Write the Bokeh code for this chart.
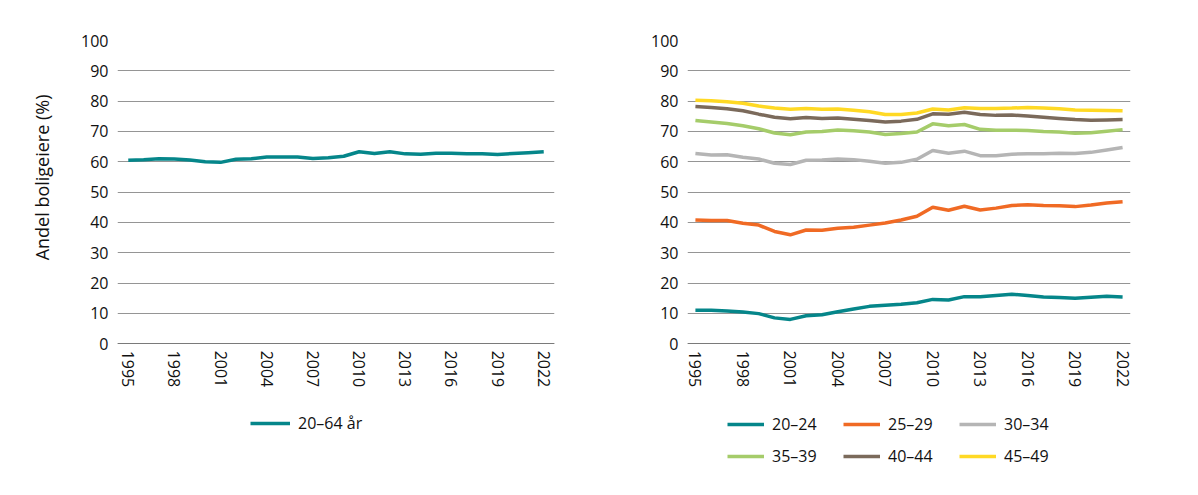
from bokeh.plotting import figure
from bokeh.models import Range1d, FixedTicker, Legend, LegendItem, ColumnDataSource, Title
from bokeh.layouts import row
from bokeh.embed import file_html
from bokeh.resources import INLINE

years = list(range(1995, 2023))
x_ticks = [1995, 1998, 2001, 2004, 2007, 2010, 2013, 2016, 2019, 2022]
y_ticks = [0, 10, 20, 30, 40, 50, 60, 70, 80, 90, 100]
y_label = "Andel boligeiere (%)"

total_label = "20–64 år"
total_20_64 = [60.5, 60.7, 61.0, 60.9, 60.6, 60.0, 59.8, 60.8, 61.0, 61.6, 61.6, 61.6, 61.1, 61.3,
               61.8, 63.3, 62.7, 63.3, 62.6, 62.5, 62.8, 62.8, 62.6, 62.6, 62.4, 62.7, 63.0, 63.3]

group_labels = ["20–24", "25–29", "30–34", "35–39", "40–44", "45–49"]
g20_24 = [11.0, 11.0, 10.8, 10.4, 9.9, 8.5, 8.0, 9.2, 9.5, 10.5, 11.4, 12.3, 12.7, 13.0,
          13.5, 14.6, 14.4, 15.5, 15.5, 15.9, 16.3, 15.9, 15.4, 15.2, 15.0, 15.3, 15.6, 15.4]
g25_29 = [40.8, 40.6, 40.6, 39.7, 39.1, 37.0, 35.9, 37.5, 37.4, 38.1, 38.4, 39.1, 39.8, 40.8,
          42.0, 45.0, 44.0, 45.3, 44.1, 44.7, 45.6, 45.8, 45.6, 45.5, 45.2, 45.7, 46.4, 46.8]
g30_34 = [62.7, 62.2, 62.3, 61.5, 60.9, 59.5, 59.1, 60.5, 60.6, 60.9, 60.7, 60.2, 59.5, 59.8,
          60.8, 63.7, 62.8, 63.5, 62.0, 62.0, 62.5, 62.6, 62.6, 62.8, 62.7, 63.1, 63.9, 64.7]
g35_39 = [73.6, 73.1, 72.6, 71.9, 70.9, 69.5, 68.9, 69.8, 70.0, 70.5, 70.2, 69.8, 69.0, 69.3,
          69.8, 72.5, 71.9, 72.3, 70.7, 70.4, 70.4, 70.3, 70.0, 69.8, 69.4, 69.6, 70.1, 70.6]
g40_44 = [78.2, 77.9, 77.5, 76.8, 75.7, 74.7, 74.2, 74.6, 74.3, 74.4, 74.0, 73.6, 73.1, 73.4,
          74.0, 75.8, 75.7, 76.3, 75.6, 75.3, 75.4, 75.1, 74.7, 74.3, 73.9, 73.7, 73.8, 73.9]
g45_49 = [80.3, 80.1, 79.8, 79.3, 78.4, 77.7, 77.3, 77.6, 77.3, 77.4, 77.0, 76.5, 75.6, 75.6,
          76.1, 77.4, 77.1, 77.8, 77.6, 77.6, 77.7, 77.9, 77.7, 77.5, 77.1, 77.0, 76.9, 76.8]
group_values = [g20_24, g25_29, g30_34, g35_39, g40_44, g45_49]
group_colors = ["#05868A", "#F06A24", "#B5B5B5", "#A5CC6A", "#7B6A5B", "#FFD924"]

FONT = "Open Sans"
FS = "16px"
TXT = "#111111"


def make_fig(x_start, x_end, frame_w, left_border, right_border):
    # frame extends below 0 so the legend can sit inside it; the x axis is pinned at y=0
    p = figure(output_backend="svg", toolbar_location=None,
               frame_width=frame_w, frame_height=435,
               min_border_left=left_border, min_border_right=right_border,
               min_border_top=40, min_border_bottom=8,
               x_range=Range1d(x_start, x_end), y_range=Range1d(-43.5, 100))
    p.outline_line_color = None
    p.background_fill_color = "white"
    p.border_fill_color = "white"
    p.xgrid.grid_line_color = None
    p.ygrid.grid_line_color = "#959595"
    p.ygrid.grid_line_width = 1
    p.xaxis.ticker = FixedTicker(ticks=x_ticks)
    p.yaxis.ticker = FixedTicker(ticks=y_ticks)
    p.xaxis.major_label_orientation = "vertical"
    p.xaxis.fixed_location = 0
    for ax in (p.xaxis[0], p.yaxis[0]):
        ax.major_tick_line_color = None
        ax.minor_tick_line_color = None
        ax.major_tick_out = 0
        ax.major_tick_in = 0
        ax.major_label_text_font = FONT
        ax.major_label_text_font_size = FS
        ax.major_label_text_color = TXT
    p.xaxis.axis_line_color = "#7a7a7a"
    p.xaxis.axis_line_width = 1
    p.xaxis.major_label_standoff = 7
    p.yaxis.axis_line_color = None
    p.yaxis.major_label_standoff = 9
    return p


# Left panel
p1 = make_fig(1994.3, 2022.7, 437, 117, 45)
src1 = ColumnDataSource(dict(x=years, y=total_20_64))
r1 = p1.line("x", "y", source=src1, line_color=group_colors[0], line_width=3.5)
leg1 = Legend(items=[LegendItem(label=total_label, renderers=[r1])],
              location=(133, 41), orientation="horizontal",
              padding=0, margin=0, border_line_color=None, background_fill_alpha=0,
              glyph_width=40, glyph_height=20, label_height=20, label_standoff=8,
              label_text_font=FONT, label_text_font_size=FS, label_text_color=TXT)
p1.add_layout(leg1, "center")
ytitle = Title(text=y_label, align="right", offset=54, standoff=50,
               text_font=FONT, text_font_size="18px", text_font_style="normal", text_color=TXT)
p1.add_layout(ytitle, "left")

# Right panel
p2 = make_fig(1994.5, 2022.5, 443, 88, 60)
items = []
for lab, vals, col in zip(group_labels, group_values, group_colors):
    src = ColumnDataSource(dict(x=years, y=vals))
    r = p2.line("x", "y", source=src, line_color=col, line_width=3.5)
    items.append(LegendItem(label=lab, renderers=[r]))
leg2 = Legend(items=items, location=(40, 8), orientation="horizontal", ncols=3,
              padding=0, margin=0, spacing=10, border_line_color=None, background_fill_alpha=0,
              glyph_width=37, glyph_height=20, label_height=20, label_width=61, label_standoff=8,
              label_text_font=FONT, label_text_font_size=FS, label_text_color=TXT)
p2.add_layout(leg2, "center")

layout = row(p1, p2)
open("out.html", "w").write(file_html(layout, INLINE))
